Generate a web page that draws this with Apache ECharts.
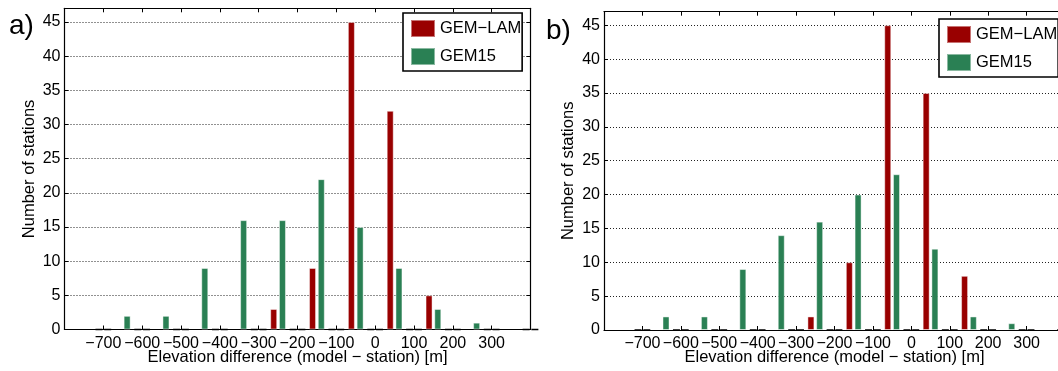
<!DOCTYPE html>
<html>
<head>
<meta charset="utf-8">
<style>
  html, body { margin: 0; padding: 0; background: #fff; }
  #chart { width: 1058px; height: 371px; }
</style>
<script src="https://cdn.jsdelivr.net/npm/echarts@6/dist/echarts.min.js"></script>
</head>
<body>
<div id="chart"></div>
<script>
// ---- data ----
const bins = [-700,-650,-600,-550,-500,-450,-400,-350,-300,-250,-200,-150,-100,-50,0,50,100,150,200,250,300,350,400];
const lamA = [0,0,0,0,0,0,0,0,0,3,0,9,0,45,0,32,0,5,0,0,0,0,0];
const gemA = [0,2,0,2,0,9,0,16,0,16,0,22,0,15,0,9,0,3,0,1,0,0,0];
const lamB = [0,0,0,0,0,0,0,0,0,2,0,10,0,45,0,35,0,8,0,0,0,0,0];
const gemB = [0,2,0,2,0,9,0,14,0,16,0,20,0,23,0,12,0,2,0,1,0,0,0];
const xTickLabels = [-700,-600,-500,-400,-300,-200,-100,0,100,200,300];
const yTickLabels = [0,5,10,15,20,25,30,35,40,45];
const seriesNames = ['GEM\u2212LAM', 'GEM15'];
const panelLabels = ['a)', 'b)'];
const xTitle = 'Elevation difference (model \u2212 station) [m]';
const yTitle = 'Number of stations';

// ---- styles ----
const FONT = 'Liberation Sans, Arial, Helvetica, sans-serif';
const colors = ['#990000', '#2a8054'];
const panels = [
  { left: 64.5, top: 8.3, width: 466, height: 321.2, legendLeft: 403, legendTop: 13, labelX: 9, labelY: 32 },
  { left: 604, top: 11.7, width: 461, height: 318.3, legendLeft: 939, legendTop: 19, labelX: 546, labelY: 37 }
];

function toItems(vals) {
  return bins.map((b, i) => {
    const v = vals[i];
    if (v === 0) {
      return b % 100 === 0
        ? { value: [b, 0], itemStyle: { borderColor: '#000', borderWidth: 1.6 } }
        : { value: [b, 0], itemStyle: { borderWidth: 0 } };
    }
    return { value: [b, v] };
  });
}

const grids = [], xAxes = [], yAxes = [], series = [], legends = [], graphics = [];
const dataSets = [[lamA, gemA], [lamB, gemB]];

panels.forEach((p, k) => {
  grids.push({ left: p.left, top: p.top, width: p.width, height: p.height, containLabel: false, outerBoundsMode: 'none' });
  const axLine = { show: true, onZero: false, lineStyle: { color: '#000', width: 1.2 } };
  const tick = { show: true, inside: true, length: 4, lineStyle: { color: '#000', width: 1 } };
  xAxes.push({
    type: 'value', gridIndex: k, position: 'bottom', min: -800, max: 400, interval: 100,
    axisLine: axLine, axisTick: tick,
    axisLabel: {
      margin: 6, color: '#000', fontFamily: FONT, fontSize: 16,
      formatter: v => xTickLabels.indexOf(v) >= 0 ? String(v).replace('-', '\u2212') : ''
    },
    splitLine: { show: false },
    name: xTitle, nameLocation: 'middle', nameGap: 19, nameMoveOverlap: false,
    nameTextStyle: { color: '#000', fontFamily: FONT, fontSize: 16.5 }
  });
  xAxes.push({
    type: 'value', gridIndex: k, position: 'top', min: -800, max: 400, interval: 100,
    axisLine: axLine, axisTick: tick,
    axisLabel: { show: false }, splitLine: { show: false }
  });
  yAxes.push({
    type: 'value', gridIndex: k, position: 'left', min: 0, max: 47, interval: 5,
    axisLine: axLine, axisTick: tick,
    axisLabel: {
      margin: 4, color: '#000', fontFamily: FONT, fontSize: 16,
      formatter: v => yTickLabels.indexOf(v) >= 0 ? String(v) : ''
    },
    splitLine: { show: true, lineStyle: { color: '#222', width: 1, type: [1, 2] } },
    name: yTitle, nameLocation: 'middle', nameGap: 27, nameMoveOverlap: false,
    nameTextStyle: { color: '#000', fontFamily: FONT, fontSize: 16.5 }
  });
  yAxes.push({
    type: 'value', gridIndex: k, position: 'right', min: 0, max: 47, interval: 5,
    axisLine: axLine, axisTick: tick,
    axisLabel: { show: false }, splitLine: { show: false }
  });
  dataSets[k].forEach((vals, s) => {
    series.push({
      type: 'bar', name: seriesNames[s],
      xAxisIndex: 2 * k, yAxisIndex: 2 * k,
      barWidth: 7, barGap: '25%',
      itemStyle: { color: colors[s], borderColor: 'rgba(255,255,255,0.45)', borderWidth: 1 },
      data: toItems(vals),
      animation: false
    });
  });
  legends.push({
    orient: 'vertical', left: p.legendLeft, top: p.legendTop,
    data: seriesNames.map(n => ({ name: n, icon: 'rect' })),
    itemWidth: 24, itemHeight: 17, itemGap: 9,
    padding: [6, 1, 5, 7],
    borderColor: '#000', borderWidth: 1.6, backgroundColor: '#fff',
    textStyle: { color: '#000', fontFamily: FONT, fontSize: 16.5 },
    selectedMode: false
  });
  graphics.push({
    type: 'text', left: p.labelX, top: p.labelY - 20,
    style: { text: panelLabels[k], fill: '#000', font: '28px ' + FONT }
  });
});

const chart = echarts.init(document.getElementById('chart'), null, { renderer: 'canvas' });
chart.setOption({
  animation: false,
  backgroundColor: '#fff',
  grid: grids, xAxis: xAxes, yAxis: yAxes, series: series,
  legend: legends, graphic: graphics
});
</script>
</body>
</html>
